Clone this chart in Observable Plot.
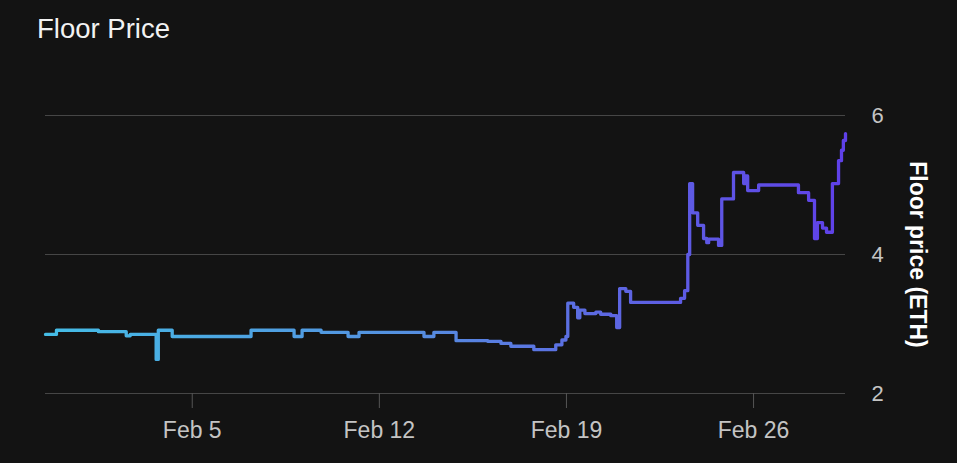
<!DOCTYPE html>
<html><head><meta charset="utf-8">
<script src="https://cdn.jsdelivr.net/npm/d3@7"></script>
<script src="https://cdn.jsdelivr.net/npm/@observablehq/plot@0.6"></script>
<style>
body{margin:0;background:#131313;width:957px;height:463px;overflow:hidden;font-family:"Liberation Sans",Arial,sans-serif;}
#title{height:60px;line-height:58px;padding-left:37px;font-size:27.5px;color:#f2f2f2;}
</style></head><body>
<div id="title">Floor Price</div>
<div id="chart"></div>
<script>
// Time in fractional days of February 2024 (day 5 = Feb 5, 00:00 UTC)
const days = [-0.49, -0.08, 1.49, 2.53, 2.68, 3.65, 3.73, 4.25, 7.20, 8.81, 9.11, 9.82, 10.83, 11.24, 13.67, 14.04, 14.87, 16.06, 16.55, 16.92, 17.78, 18.60, 18.83, 18.98, 19.05, 19.27, 19.42, 19.50, 19.69, 20.10, 20.28, 20.66, 20.88, 20.99, 21.22, 21.40, 23.27, 23.42, 23.54, 23.61, 23.72, 23.91, 24.13, 24.25, 24.32, 24.69, 24.81, 25.25, 25.63, 25.70, 25.78, 26.19, 27.68, 28.06, 28.28, 28.39, 28.58, 28.73, 28.95, 29.18, 29.29, 29.36, 29.44];
const prices = [2.85, 2.91, 2.89, 2.83, 2.85, 2.49, 2.91, 2.82, 2.91, 2.82, 2.91, 2.88, 2.82, 2.88, 2.82, 2.88, 2.76, 2.75, 2.72, 2.68, 2.63, 2.70, 2.77, 2.82, 3.30, 3.24, 3.09, 3.20, 3.15, 3.17, 3.14, 3.12, 2.95, 3.51, 3.47, 3.31, 3.37, 3.48, 4.00, 5.02, 4.60, 4.42, 4.23, 4.17, 4.22, 4.13, 4.80, 5.18, 5.02, 5.13, 4.92, 5.00, 4.89, 4.78, 4.23, 4.46, 4.38, 4.32, 5.02, 5.35, 5.50, 5.64, 5.74];
const xTickDays = [5, 12, 19, 26];
const yTicks = [2, 4, 6];
const yLabel = "Floor price (ETH)";

const toDate = d => new Date(Date.UTC(2024, 1, 1) + (d - 1) * 864e5);
const data = days.map((d, i) => ({date: toDate(d), price: prices[i]}));

const defs = () => {
  const g = d3.create("svg:defs");
  const lg = g.append("linearGradient").attr("id", "lineGrad").attr("x1", "0").attr("x2", "1").attr("y1", "0").attr("y2", "0");
  lg.append("stop").attr("offset", "0%").attr("stop-color", "#45bde6");
  lg.append("stop").attr("offset", "45%").attr("stop-color", "#5590e0");
  lg.append("stop").attr("offset", "70%").attr("stop-color", "#5d68e2");
  lg.append("stop").attr("offset", "100%").attr("stop-color", "#5f40e8");
  return g.node();
};

const chart = Plot.plot({
  width: 957, height: 403,
  marginLeft: 45, marginRight: 112, marginTop: 55, marginBottom: 70,
  style: {background: "transparent", color: "#bdbdbd", fontFamily: "Liberation Sans, Arial, sans-serif", fontSize: "22px"},
  x: {type: "utc", domain: [data[0].date, data[data.length - 1].date]},
  y: {domain: [2, 6]},
  marks: [
    defs,
    Plot.ruleY(yTicks, {stroke: "#464646", strokeWidth: 1.2}),
    Plot.axisX(xTickDays.map(toDate), {tickSize: 15, tickPadding: 13, tickFormat: d3.utcFormat("%b %-d"), stroke: "#555", fill: "#c4c4c4", fontSize: 23, label: null}),
    Plot.axisY(yTicks, {anchor: "right", tickSize: 0, tickPadding: 26, tickFormat: "d", fill: "#c4c4c4", fontSize: 22, label: null}),
    Plot.line(data, {x: "date", y: "price", curve: "step-after", stroke: "url(#lineGrad)", strokeWidth: 3.3, strokeLinejoin: "round"}),
    Plot.text([yLabel], {text: d => d, frameAnchor: "right", dx: 72, rotate: 90, textAnchor: "middle", fill: "#ffffff", fontWeight: "bold", fontSize: 23})
  ]
});
document.getElementById("chart").appendChild(chart);
</script>
</body></html>
